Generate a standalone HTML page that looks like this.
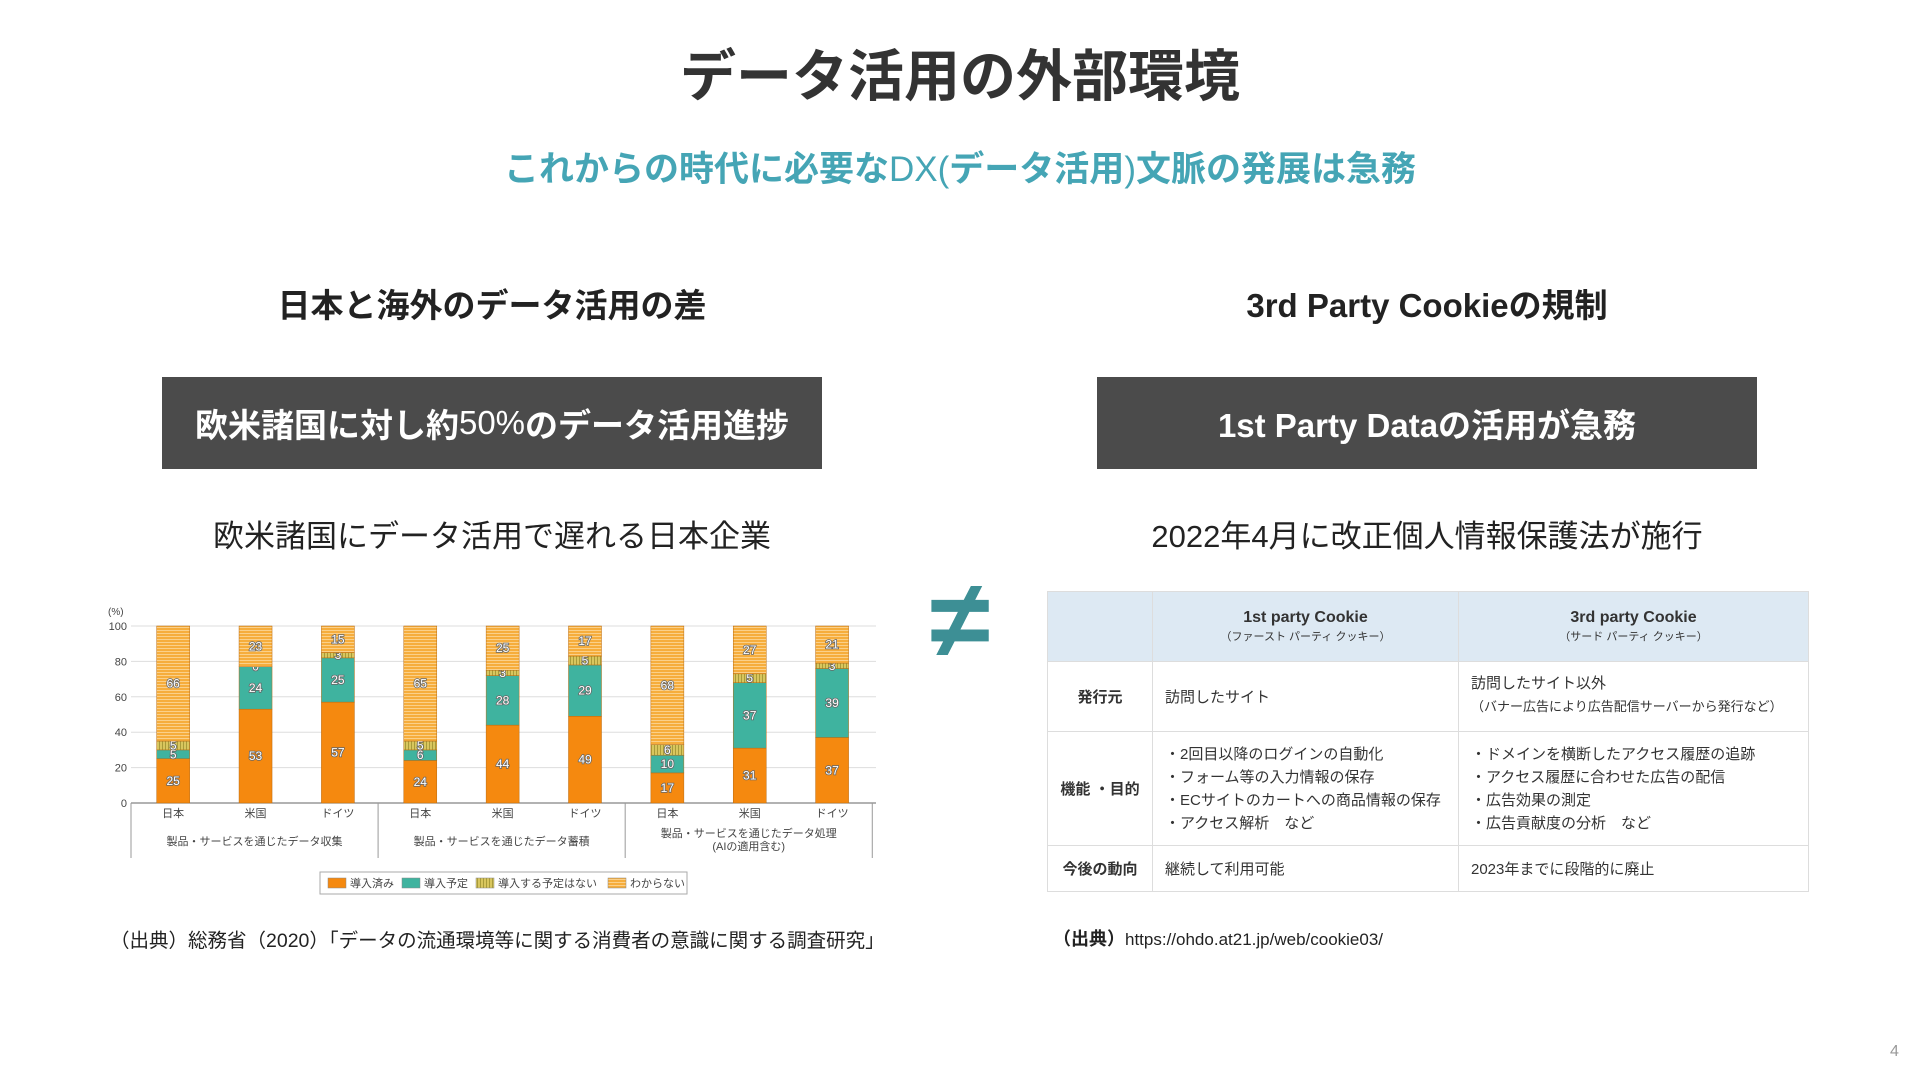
<!DOCTYPE html>
<html lang="ja"><head><meta charset="utf-8"><style>
*{margin:0;padding:0;box-sizing:border-box}
body{width:1920px;height:1080px;background:#fff;position:relative;overflow:hidden;font-family:"Liberation Sans","Noto Sans CJK JP",sans-serif;color:#222}
.abs{position:absolute}
.c{text-align:center;white-space:nowrap}
.box{background:#4b4b4b;color:#fff;font-weight:bold;font-size:33px;display:flex;align-items:center;justify-content:center}
table{border-collapse:collapse;font-size:15px;color:#333}
td{border:1px solid #ddd;padding:0 12px;vertical-align:middle}
</style></head><body>
<div class="abs c" style="left:0;width:1920px;top:32px;font-size:56px;font-weight:bold;color:#333">データ活用の外部環境</div>
<div class="abs c" style="left:0;width:1920px;top:141px;font-size:35px;font-weight:bold;color:#45a5b5">これからの時代に必要な<span style="font-weight:normal">DX(</span>データ活用<span style="font-weight:normal">)</span>文脈の発展は急務</div>

<div class="abs c" style="left:162px;width:660px;top:279px;font-size:33px;font-weight:bold">日本と海外のデータ活用の差</div>
<div class="abs c" style="left:1097px;width:660px;top:279px;font-size:33px;font-weight:bold">3rd Party Cookieの規制</div>
<div class="abs box" style="left:162px;top:377px;width:660px;height:92px">欧米諸国に対し約<span style="font-weight:normal">50%</span>のデータ活用進捗</div>
<div class="abs box" style="left:1097px;top:377px;width:660px;height:92px">1st Party Dataの活用が急務</div>
<div class="abs c" style="left:162px;width:660px;top:511px;font-size:31px">欧米諸国にデータ活用で遅れる日本企業</div>
<div class="abs c" style="left:1097px;width:660px;top:511px;font-size:31px">2022年4月に改正個人情報保護法が施行</div>
<div class="abs c" style="left:900px;width:120px;top:560px;font-size:110px;line-height:120px;color:#3d8f95;font-weight:bold">≠</div>

<svg class="abs" style="left:0;top:0" width="960" height="920" id="chart"></svg>

<div class="abs" style="left:110px;top:924px;font-size:19.5px;white-space:nowrap">（出典）総務省（2020）「データの流通環境等に関する消費者の意識に関する調査研究」</div>

<table class="abs" style="left:1047px;top:591px;width:762px">
<tr style="height:70px;background:#dde9f3"><td style="width:105px"></td><td class="c" style="width:306px"><b style="font-size:16px">1st party Cookie</b><br><span style="font-size:11px">（ファースト パーティ クッキー）</span></td><td class="c"><b style="font-size:16px">3rd party Cookie</b><br><span style="font-size:11px">（サード パーティ クッキー）</span></td></tr>
<tr style="height:70px"><td class="c" style="font-weight:bold">発行元</td><td>訪問したサイト</td><td>訪問したサイト以外<br><span style="font-size:13px;line-height:28px">（バナー広告により広告配信サーバーから発行など）</span></td></tr>
<tr style="height:114px"><td class="c" style="font-weight:bold">機能 ・目的</td><td style="line-height:23px">・2回目以降のログインの自動化<br>・フォーム等の入力情報の保存<br>・ECサイトのカートへの商品情報の保存<br>・アクセス解析　など</td><td style="line-height:23px">・ドメインを横断したアクセス履歴の追跡<br>・アクセス履歴に合わせた広告の配信<br>・広告効果の測定<br>・広告貢献度の分析　など</td></tr>
<tr style="height:46px"><td class="c" style="font-weight:bold">今後の動向</td><td>継続して利用可能</td><td>2023年までに段階的に廃止</td></tr>
</table>
<div class="abs" style="left:1053px;top:925px;font-size:18px;white-space:nowrap"><b>（出典）</b><span style="font-size:17px">https://ohdo.at21.jp/web/cookie03/</span></div>
<div class="abs" style="left:1890px;top:1043px;font-size:16px;color:#999">4</div>

<script>
const countries=["日本","米国","ドイツ","日本","米国","ドイツ","日本","米国","ドイツ"];
const groups=["製品・サービスを通じたデータ収集","製品・サービスを通じたデータ蓄積","製品・サービスを通じたデータ処理|(AIの適用含む)"];
const adopted=[25,53,57,24,44,49,17,31,37];
const planned=[5,24,25,6,28,29,10,37,39];
const noPlan=[5,0,3,5,3,5,6,5,3];
const unknown=[66,23,15,65,25,17,68,27,21];
const yTicks=[0,20,40,60,80,100];
const seriesNames=["導入済み","導入予定","導入する予定はない","わからない"];
const NS="http://www.w3.org/2000/svg";
const svg=document.getElementById('chart');
const x0=131,x1=876,yTop=626,yBot=803;
const n=countries.length,step=(x1-x0)/n*0.995;
const y=v=>yBot-(v/100)*(yBot-yTop);
const xc=i=>x0+step*(i+0.5)+1;
const bw=33;
function mk(t,a,txt){const e=document.createElementNS(NS,t);for(const k in a)e.setAttribute(k,a[k]);if(txt!=null)e.textContent=txt;svg.appendChild(e);return e;}
svg.innerHTML='<defs><pattern id="pu" width="4" height="3" patternUnits="userSpaceOnUse"><rect width="4" height="3" fill="#f6ad3c"/><rect width="4" height="1" fill="#fbd089"/></pattern><pattern id="pn" width="3" height="4" patternUnits="userSpaceOnUse"><rect width="3" height="4" fill="#d8c65e"/><rect width="1" height="4" fill="#a89b3a"/></pattern></defs>';
yTicks.forEach(t=>{
  const g=mk('line',{x1:x0,x2:x1,y1:y(t),y2:y(t),stroke:t===0?'#666':'#ddd','stroke-width':1});
  
  const l=mk('text',{x:x0-4,y:y(t)+4,'text-anchor':'end','font-size':11,fill:'#444'},t);
  
});
const u=mk('text',{x:108,y:615,'font-size':10,fill:'#444'},'(%)');

const fills=['#f5890f','#3fb39f','url(#pn)','url(#pu)'];
const series=[adopted,planned,noPlan,unknown];
for(let i=0;i<n;i++){
  let acc=0;
  series.forEach((s,k)=>{
    const v=s[i];const yt=y(Math.min(acc+v,100)),yb=y(acc);
    const r=mk('rect',{x:xc(i)-bw/2,y:yt,width:bw,height:Math.max(0,yb-yt),fill:fills[k],stroke:'#b86a10','stroke-width':0.5});
    
    const t=mk('text',{x:xc(i),y:(yt+yb)/2+4,'text-anchor':'middle','font-size':12,fill:'#fff',stroke:'#666','stroke-width':1.6,'paint-order':'stroke'},v);
    
    acc+=v;
  });
  const c=mk('text',{x:xc(i),y:817,'text-anchor':'middle','font-size':11,fill:'#444'},countries[i]);
  
}
for(let g=0;g<=3;g++){
  const xs=x0+step*3*g;
  const s=mk('line',{x1:xs,x2:xs,y1:803,y2:858,stroke:'#999','stroke-width':1});
  
}
groups.forEach((gname,g)=>{
  const parts=gname.split('|');const cx=x0+step*(3*g+1.5);
  parts.forEach((p,j)=>{
    const t=mk('text',{x:cx,y:(parts.length>1?837:845)+j*13,'text-anchor':'middle','font-size':11,fill:'#444'},p);
    
  });
});
const lb=mk('rect',{x:320,y:872,width:367,height:22,fill:'#fff',stroke:'#aaa'});

const lx=[328,402,476,608];
seriesNames.forEach((s,k)=>{
  const r=mk('rect',{x:lx[k],y:878,width:18,height:10,fill:fills[k],stroke:'#888','stroke-width':0.5});
  
  const t=mk('text',{x:lx[k]+22,y:887,'font-size':11,fill:'#444'},s);
  
});
</script>
</body></html>
